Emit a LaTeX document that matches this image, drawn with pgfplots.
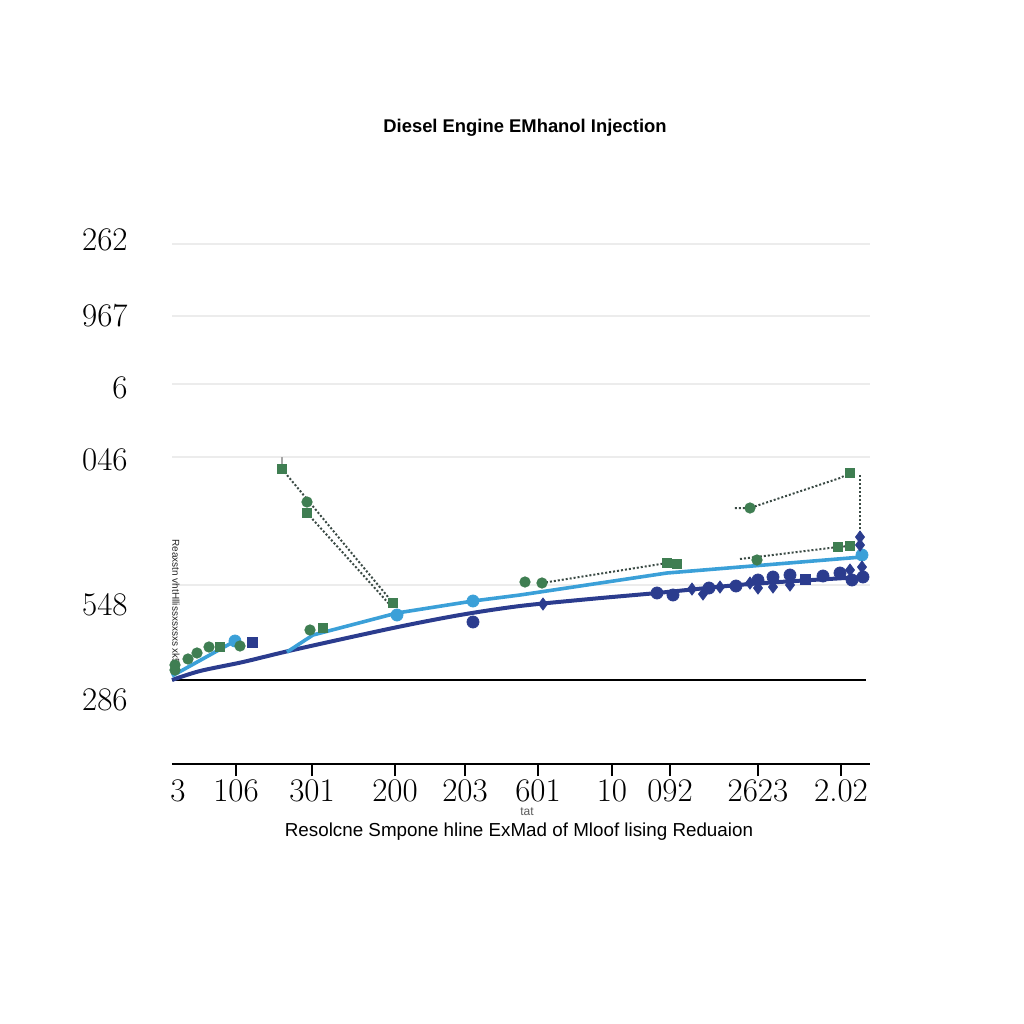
\documentclass[border=0pt]{standalone}
\usepackage{pgfplots}
\pgfplotsset{compat=1.18}
\usepackage{fontspec}
\newfontfamily\arial{Liberation Sans}
\definecolor{navy}{HTML}{2B3C8E}
\definecolor{lblue}{HTML}{3BA0D8}
\definecolor{dgreen}{HTML}{3F7E52}
\definecolor{dotc}{HTML}{3A4A44}
\begin{document}
\begin{tikzpicture}
\begin{axis}[
 x=0.5pt, y=0.5pt,
 xmin=172, xmax=870, ymin=260, ymax=800,
 axis x line=bottom, axis y line=left,
 x axis line style={-, line width=1pt, black},
 y axis line style={draw=none},
 tick align=outside, major tick length=6pt,
 xtick={236,312,395,465,538,612,670,758,841},
 xticklabels={106,301,200,203,601,10,092,2623,2.02},
 xtick style={black, line width=0.8pt},
 extra x ticks={178}, extra x tick labels={3},
 extra x tick style={tick style={draw=none}},
 xticklabel style={inner sep=0pt, yshift=-1.5pt},
 ytick={784,708,636,564,419,324},
 yticklabels={262,967,6,046,548,286},
 ytick style={draw=none},
 yticklabel style={inner sep=0pt, anchor=east, xshift=-16pt},
 extra y ticks={780,708,640,567,439}, extra y tick labels={},
 extra y tick style={grid=major, major grid style={gray!15, line width=0.8pt}, major tick length=0pt},
 tick label style={font=\fontsize{16.5}{17}\selectfont},
 clip=false,
]
% black reference line
\addplot[black, line width=1pt] coordinates {(172,344) (866,344)};
% gray tick above square
\addplot[gray!70, line width=0.8pt] coordinates {(282,567) (282,555)};
% dotted connectors
\addplot[dotc, line width=1pt, dash pattern=on 1pt off 1pt] coordinates {(282,555) (393,421)};
\addplot[dotc, line width=1pt, dash pattern=on 1pt off 1pt] coordinates {(307,511) (391,418)};
\addplot[dotc, line width=1pt, dash pattern=on 1pt off 1pt] coordinates {(542,441) (667,461)};
\addplot[dotc, line width=1pt, dash pattern=on 1pt off 1pt] coordinates {(735,516) (750,516) (840,546) (850,551)};
\addplot[dotc, line width=1pt, dash pattern=on 1pt off 1pt] coordinates {(860,549) (860,487)};
\addplot[dotc, line width=1pt, dash pattern=on 1pt off 1pt] coordinates {(740,465) (838,477) (850,478)};
% dark navy line
\addplot[navy, line width=2pt, smooth] coordinates {
(172,344) (200,353) (243,362) (293,374) (393,396) (460,409) (520,418) (590,425) (657,431) (750,440) (863,447)};
% light blue line
\addplot[lblue, line width=1.8pt] coordinates {(172,348) (235,383)};
\addplot[lblue, line width=1.8pt] coordinates {
(287,372) (313,389) (397,411) (473,423) (520,429) (667,451) (862,467)};
\addplot[lblue, only marks, mark=*, mark size=3pt] coordinates {(235,383) (397,409) (473,423) (862,469)};
% navy markers
\addplot[navy, only marks, mark=*, mark size=3pt] coordinates {
(473,402) (657,431) (673,429) (709,436) (736,438) (758,444) (773,447) (790,449) (823,448) (840,451) (852,444) (863,447)};
\addplot[navy, only marks, mark=diamond*, mark size=3pt] coordinates {
(543,420) (692,435) (703,430) (720,437) (750,441) (758,436) (773,437) (790,439) (850,454) (860,487) (860,479) (862,457)};
\addplot[navy, only marks, mark=square*, mark size=2.5pt] coordinates {(252,382) (805,445)};
% green markers
\addplot[dgreen, only marks, mark=*, mark size=2.6pt] coordinates {
(175,359) (175,354) (188,365) (197,371) (209,377) (240,378) (310,394) (307,522) (525,442) (542,441) (750,516) (757,464)};
\addplot[dgreen, only marks, mark=square*, mark size=2.4pt] coordinates {
(220,377) (323,396) (282,555) (393,421) (307,511) (850,551) (838,477) (850,478) (667,461) (677,460)};
% texts
\node[font=\arial\bfseries\fontsize{9.2}{10}\selectfont] at (axis cs:525,896) {Diesel Engine EMhanol Injection};
\node[font=\arial\fontsize{9.4}{10}\selectfont] at (axis cs:519,192) {Resolcne Smpone hline ExMad of Mloof lising Reduaion};
\node[font=\arial\fontsize{6}{6}\selectfont, text=gray!70!black] at (axis cs:527,212) {tat};
\node[rotate=-90, font=\arial\fontsize{5}{5}\selectfont, text=black!85] at (axis cs:176,422) {Reaxstn vhtHllissxsxsxs xk5};
\path (axis cs:0,0) rectangle (axis cs:1024,1024);
\end{axis}
\end{tikzpicture}
\end{document}
